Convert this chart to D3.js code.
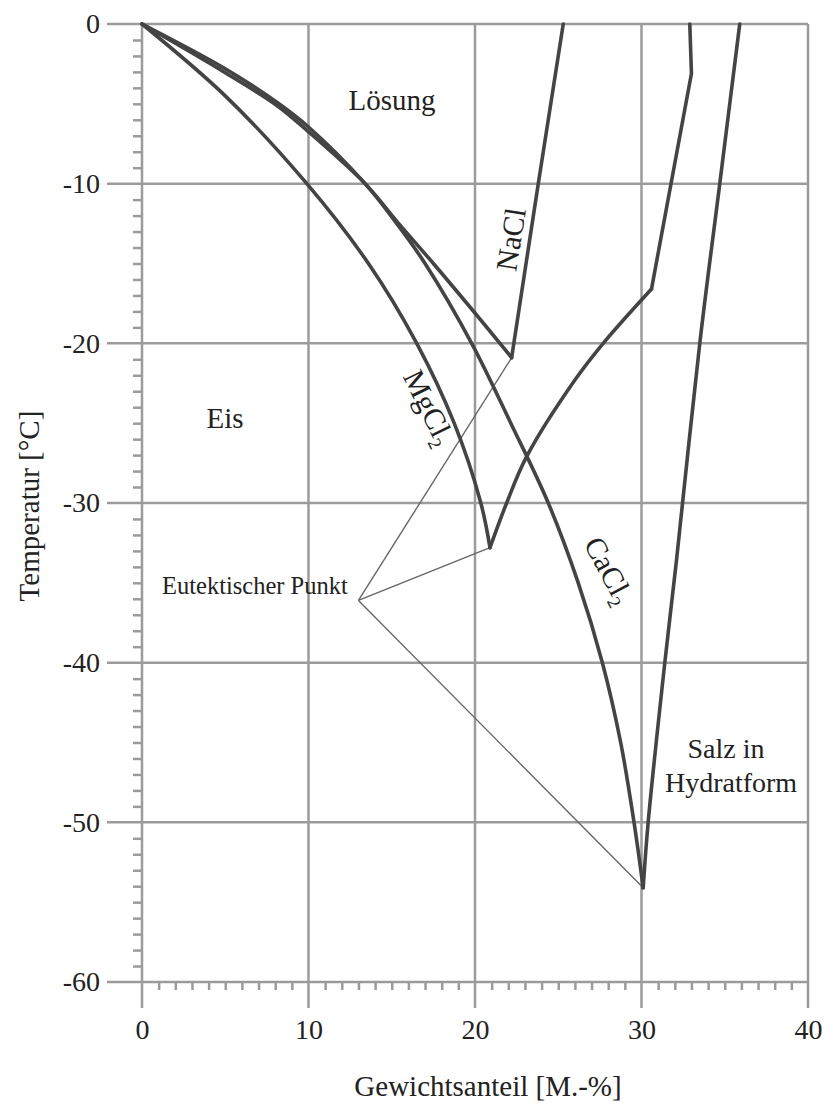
<!DOCTYPE html>
<html><head><meta charset="utf-8">
<script src="https://cdn.jsdelivr.net/npm/d3@7"></script>
<style>body{margin:0;background:#fff}svg{display:block}text{font-family:"Liberation Serif","Times New Roman",serif;fill:#222}</style>
</head><body>
<script>
// ---- data ----
const xTicks = [0, 10, 20, 30, 40];
const yTicks = [0, -10, -20, -30, -40, -50, -60];
const xTickLabels = ["0", "10", "20", "30", "40"];
const yTickLabels = ["0", "-10", "-20", "-30", "-40", "-50", "-60"];

const naclIce = [[0,0],[5,-3.05],[8.1,-5.1],[10,-6.75],[13.4,-10],[15.5,-12.6],[17.5,-15],[21.5,-20],[22.2,-20.9]];
const naclSalt = [[22.2,-20.9],[23.8,-10],[25.3,0]];
const cacl2Ice = [[0,0],[5,-2.8],[8.1,-4.9],[10,-6.45],[13.4,-10],[15.3,-12.5],[17.0,-15],[19.8,-20],[22.15,-25],[24.4,-30],[26.2,-35],[27.65,-40],[28.75,-45],[29.55,-50],[30.1,-54.1]];
const cacl2Salt = [[30.1,-54.1],[30.4,-50],[31.4,-40],[32.1,-33.6],[33.5,-20],[34.7,-10],[35.9,0]];
const mgcl2Ice = [[0,0],[5,-4.5],[9.9,-10],[13.6,-15],[16.5,-20],[18.75,-25],[20.35,-30],[20.9,-32.8]];
const mgcl2SaltCurve = [[20.9,-32.8],[21.9,-30],[23.1,-27.1],[26.0,-22.3],[27.7,-20],[30.6,-16.6]];
const mgcl2SaltLine = [[30.6,-16.6],[33.0,-3.1],[32.9,0]];
const eutecticLabelPoint = [13.0,-36.1];
const eutectics = [[22.2,-20.9],[20.9,-32.8],[30.1,-54.1]];

// ---- chart ----
const W = 825, H = 1104;
const FONT = "Liberation Serif, Times New Roman, serif";
const x = d3.scaleLinear().domain([0, 40]).range([142, 808]);
const y = d3.scaleLinear().domain([0, -60]).range([24, 982]);
const svg = d3.select("body").append("svg").attr("width", W).attr("height", H);
svg.append("rect").attr("width", W).attr("height", H).attr("fill", "#fff");

const gridColor = "#9b9b9b";
const g = svg.append("g");

// horizontal gridlines
g.selectAll("line.h").data(yTicks).join("line")
  .attr("x1", 107).attr("x2", x(40))
  .attr("y1", d => y(d)).attr("y2", d => y(d))
  .attr("stroke", gridColor).attr("stroke-width", 2.5);
// vertical gridlines
g.selectAll("line.v").data(xTicks).join("line")
  .attr("x1", d => x(d)).attr("x2", d => x(d))
  .attr("y1", y(0)).attr("y2", 1008)
  .attr("stroke", gridColor).attr("stroke-width", 2.5);

// minor ticks
const yMinor = d3.range(-1, -60, -1).filter(v => v % 10 !== 0);
const xMinor = d3.range(1, 40, 1).filter(v => v % 10 !== 0);
const ay = svg.append("g").attr("transform", `translate(${x(0)},0)`)
  .call(d3.axisLeft(y).tickValues(yMinor).tickSize(9).tickFormat(""));
ay.select(".domain").remove();
ay.selectAll("line").attr("stroke", gridColor).attr("stroke-width", 2.5);
const ax = svg.append("g").attr("transform", `translate(0,${y(-60)})`)
  .call(d3.axisBottom(x).tickValues(xMinor).tickSize(8).tickFormat(""));
ax.select(".domain").remove();
ax.selectAll("line").attr("stroke", gridColor).attr("stroke-width", 2.5);

// tick labels
const ly = svg.append("g").attr("transform", "translate(107,0)")
  .call(d3.axisLeft(y).tickValues(yTicks).tickSize(0).tickPadding(7).tickFormat((d, i) => yTickLabels[i]));
ly.select(".domain").remove();
ly.attr("font-family", FONT);
ly.selectAll("text").attr("font-size", 28).attr("font-family", FONT).attr("fill", "#222");
const lx = svg.append("g").attr("transform", `translate(0,${y(-60)})`)
  .call(d3.axisBottom(x).tickValues(xTicks).tickSize(0).tickPadding(37).tickFormat((d, i) => xTickLabels[i]));
lx.select(".domain").remove();
lx.attr("font-family", FONT);
lx.selectAll("text").attr("font-size", 28).attr("font-family", FONT).attr("fill", "#222");

// connector lines (eutectic point)
svg.selectAll("line.eu").data(eutectics).join("line")
  .attr("x1", x(eutecticLabelPoint[0])).attr("y1", y(eutecticLabelPoint[1]))
  .attr("x2", d => x(d[0])).attr("y2", d => y(d[1]))
  .attr("stroke", "#666").attr("stroke-width", 1.4);

// curves
const curveGen = d3.line().x(d => x(d[0])).y(d => y(d[1])).curve(d3.curveCatmullRom.alpha(0.5));
const lineGen = d3.line().x(d => x(d[0])).y(d => y(d[1]));
const curveStyle = s => s.attr("fill", "none").attr("stroke", "#444").attr("stroke-width", 3.6)
  .attr("stroke-linejoin", "round").attr("stroke-linecap", "round");
[naclIce, cacl2Ice, mgcl2Ice, cacl2Salt, mgcl2SaltCurve].forEach(d =>
  svg.append("path").attr("d", curveGen(d)).call(curveStyle));
[naclSalt, mgcl2SaltLine].forEach(d =>
  svg.append("path").attr("d", lineGen(d)).call(curveStyle));

// labels
const txt = (s, px, py, size, anchor = "start") =>
  svg.append("text").attr("x", px).attr("y", py).attr("font-size", size).attr("font-family", FONT)
    .attr("text-anchor", anchor).text(s);
txt("Lösung", 392, 110, 29, "middle");
txt("Eis", 225, 428, 29, "middle");
txt("Salz in", 726, 758, 28, "middle");
txt("Hydratform", 731, 792, 28, "middle");
txt("Eutektischer Punkt", 162, 594, 24.5, "start");

// rotated formula labels
function formula(base, sub, cx, cy, angle, size) {
  const t = svg.append("text").attr("transform", `translate(${cx},${cy}) rotate(${angle})`)
    .attr("text-anchor", "middle").attr("font-size", size).attr("font-family", FONT);
  t.append("tspan").text(base);
  if (sub) t.append("tspan").attr("font-size", size * 0.62).attr("dy", size * 0.22).text(sub);
  return t;
}
formula("NaCl", null, 521, 241, -81, 30);
formula("MgCl", "2", 420, 412, 64, 30);
formula("CaCl", "2", 600, 575, 62, 30);

// axis titles
svg.append("text").attr("transform", "translate(39,506) rotate(-90)").attr("font-family", FONT)
  .attr("text-anchor", "middle").attr("font-size", 29).text("Temperatur [°C]");
svg.append("text").attr("x", 488).attr("y", 1096).attr("font-family", FONT)
  .attr("text-anchor", "middle").attr("font-size", 29).text("Gewichtsanteil [M.-%]");
</script>
</body></html>
